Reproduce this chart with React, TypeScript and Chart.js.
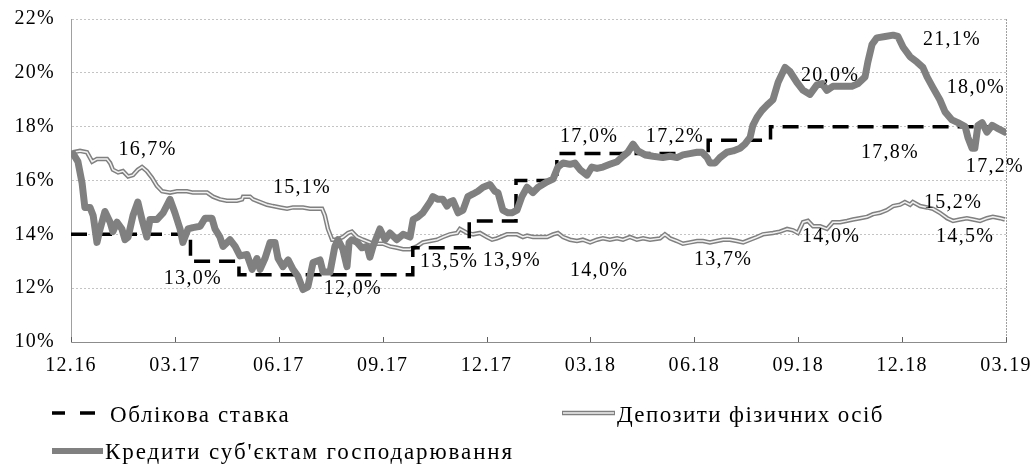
import React, { useEffect, useRef } from "react";
import { Chart, registerables } from "chart.js";

Chart.register(...registerables);

// Axis labels
const quarterLabels = ["12.16", "03.17", "06.17", "09.17", "12.17", "03.18", "06.18", "09.18", "12.18", "03.19"];

// Time is measured in months from the left edge (12.16)
const discountT = [0, 3.45, 4.85, 9.87, 11.5, 12.85, 14.03, 18.4, 20.2, 27];
const discountV = [14, 13, 12.5, 13.5, 14.5, 16, 17, 17.5, 18, 18];

const depositT = [
  0.06, 0.26, 0.46, 0.61, 0.75, 1.04, 1.13, 1.21, 1.36, 1.5, 1.65, 1.79, 1.93, 2.05, 2.19, 2.34, 2.48, 2.63, 2.86,
  3.06, 3.35, 3.52, 3.73, 3.93, 4.1, 4.3, 4.5, 4.79, 4.94, 4.97, 5.17, 5.26, 5.46, 5.66, 5.83, 6.04, 6.24, 6.41,
  6.7, 6.9, 7.25, 7.33, 7.42, 7.54, 7.68, 7.85, 8.0, 8.11, 8.26, 8.43, 8.63, 8.84, 9.01, 9.21, 9.41, 9.59, 9.79,
  9.99, 10.16, 10.37, 10.57, 10.74, 10.94, 11.15, 11.23, 11.44, 11.61, 11.81, 12.01, 12.16, 12.3, 12.59, 12.88,
  13.05, 13.17, 13.34, 13.54, 13.75, 13.92, 14.06, 14.21, 14.41, 14.61, 14.78, 14.99, 15.19, 15.36, 15.56, 15.77,
  15.94, 16.14, 16.34, 16.52, 16.72, 17.01, 17.15, 17.3, 17.5, 17.67, 17.87, 18.08, 18.25, 18.45, 18.65, 18.83,
  19.03, 19.23, 19.41, 19.61, 19.81, 19.98, 20.27, 20.47, 20.68, 20.85, 20.99, 21.14, 21.28, 21.43, 21.63, 21.83,
  22.0, 22.21, 22.41, 22.58, 22.78, 22.99, 23.16, 23.36, 23.56, 23.74, 23.94, 24.08, 24.23, 24.31, 24.52, 24.72,
  24.89, 25.09, 25.3, 25.47, 25.67, 25.87, 26.05, 26.25, 26.45, 26.62, 26.83, 26.97,
];
const depositV = [
  17.05, 17.1, 17.05, 16.7, 16.8, 16.8, 16.65, 16.4, 16.3, 16.35, 16.15, 16.2, 16.4, 16.5, 16.35, 16.1, 15.8, 15.6, 15.55,
  15.6, 15.6, 15.55, 15.55, 15.55, 15.4, 15.3, 15.25, 15.25, 15.3, 15.4, 15.4, 15.3, 15.2, 15.1, 15.05, 15.0, 14.95, 15.0,
  15.0, 14.95, 14.95, 14.7, 14.2, 13.8, 13.8, 13.9, 14.05, 14.1, 13.9, 13.8, 13.7, 13.65, 13.65, 13.55, 13.5, 13.45, 13.45,
  13.55, 13.7, 13.75, 13.8, 13.9, 14.0, 14.05, 14.2, 14.05, 14.0, 14.05, 13.9, 13.8, 13.85, 14.0, 14.0,
  13.9, 13.95, 13.9, 13.9, 13.9, 14.0, 14.05, 13.9, 13.8, 13.75, 13.8, 13.7, 13.8, 13.85, 13.8, 13.85,
  13.8, 13.9, 13.8, 13.85, 13.8, 13.85, 14.0, 13.85, 13.75, 13.65, 13.7, 13.75, 13.75, 13.7, 13.75, 13.8,
  13.8, 13.75, 13.7, 13.8, 13.9, 14.0, 14.05, 14.1, 14.2, 14.15, 14.05, 14.45, 14.5, 14.3, 14.3, 14.2,
  14.45, 14.45, 14.5, 14.55, 14.6, 14.65, 14.75, 14.8, 14.9, 15.05, 15.1, 15.2, 15.1, 15.2, 15.05, 15.0,
  14.95, 14.8, 14.6, 14.5, 14.55, 14.6, 14.55, 14.5, 14.6, 14.65, 14.6, 14.55,
];

const loanT = [
  0.06, 0.2, 0.32, 0.4, 0.55, 0.64, 0.75, 0.84, 0.98, 1.13, 1.21, 1.33, 1.47, 1.56, 1.65, 1.79, 1.93, 2.05, 2.19, 2.28,
  2.48, 2.66, 2.86, 3.0, 3.15, 3.23, 3.38, 3.52, 3.73, 3.87, 4.07, 4.16, 4.3, 4.39, 4.59, 4.74, 4.88, 5.08, 5.23, 5.37,
  5.46, 5.6, 5.75, 5.89, 5.98, 6.12, 6.27, 6.41, 6.55, 6.7, 6.84, 6.99, 7.19, 7.28, 7.48, 7.62, 7.71, 7.85, 7.97, 8.03,
  8.11, 8.26, 8.4, 8.55, 8.63, 8.72, 8.92, 9.07, 9.21, 9.41, 9.59, 9.79, 9.88, 10.02, 10.16, 10.37, 10.45, 10.6, 10.74,
  10.86, 10.94, 11.03, 11.18, 11.32, 11.46, 11.61, 11.75, 11.9, 12.1, 12.24, 12.33, 12.47, 12.62, 12.73, 12.88, 13.02,
  13.17, 13.34, 13.49, 13.75, 13.92, 14.06, 14.21, 14.41, 14.55, 14.7, 14.9, 15.04, 15.19, 15.36, 15.56, 15.77, 15.94,
  16.08, 16.23, 16.37, 16.58, 16.81, 17.09, 17.3, 17.5, 17.67, 17.87, 18.08, 18.22, 18.37, 18.45, 18.6, 18.74, 18.94,
  19.12, 19.32, 19.46, 19.61, 19.69, 19.81, 19.95, 20.1, 20.27, 20.42, 20.62, 20.76, 20.96, 21.14, 21.34, 21.54, 21.69,
  21.83, 22.0, 22.29, 22.55, 22.73, 22.93, 23.01, 23.13, 23.27, 23.51, 23.74, 23.88, 24.03, 24.23, 24.43, 24.6, 24.72,
  24.89, 25.09, 25.24, 25.44, 25.61, 25.82, 25.9, 26.02, 26.1, 26.19, 26.31, 26.45, 26.6, 26.74, 26.97,
];
const loanV = [
  17.0, 16.7, 15.9, 15.0, 15.0, 14.7, 13.7, 14.2, 14.85, 14.45, 14.1, 14.45, 14.2, 13.8, 13.9, 14.7, 15.2, 14.55, 13.9, 14.55,
  14.55, 14.8, 15.3, 14.8, 14.2, 13.7, 14.2, 14.25, 14.3, 14.6, 14.6, 14.2, 13.9, 13.55, 13.8, 13.55, 13.2, 13.25, 12.7, 13.1,
  12.7, 13.1, 13.7, 13.7, 13.1, 12.8, 13.05, 12.7, 12.45, 11.95, 12.05, 12.95, 13.05, 12.6, 12.6, 13.55, 13.8, 13.45, 12.8, 13.7,
  13.8, 13.7, 13.5, 13.55, 13.15, 13.55, 14.2, 13.8, 14.05, 13.8, 14.0, 13.9, 14.55, 14.65, 14.8, 15.2, 15.4, 15.3, 15.3,
  15.05, 15.2, 15.25, 14.8, 14.9, 15.4, 15.5, 15.6, 15.75, 15.85, 15.6, 15.55, 14.9, 14.8, 14.8, 14.9, 15.4,
  15.75, 15.55, 15.75, 15.95, 16.05, 16.5, 16.65, 16.6, 16.65, 16.4, 16.2, 16.5, 16.45, 16.5, 16.6, 16.7, 16.9,
  17.05, 17.35, 17.1, 16.95, 16.9, 16.85, 16.9, 16.85, 16.95, 17.0, 17.05, 17.05, 16.85, 16.65, 16.65, 16.85, 17.05,
  17.1, 17.2, 17.35, 17.6, 18.05, 18.35, 18.6, 18.8, 19.0, 19.65, 20.2, 20.05, 19.65, 19.35, 19.2, 19.55, 19.6,
  19.35, 19.5, 19.5, 19.5, 19.6, 19.85, 20.4, 21.05, 21.3, 21.35, 21.4, 21.35, 20.95, 20.6, 20.4, 20.2, 19.85,
  19.45, 19.0, 18.55, 18.25, 18.15, 18.0, 17.6, 17.2, 17.2, 18.05, 18.15, 17.8, 18.05, 17.95, 17.8,
];

// Value labels written on the chart (anchored at month / percent)
const noteText = [
  "16,7%", "15,1%", "13,0%", "12,0%", "13,5%", "13,9%", "14,0%", "17,0%", "17,2%",
  "13,7%", "14,0%", "20,0%", "21,1%", "18,0%", "17,8%", "17,2%", "15,2%", "14,5%",
];
const noteT = [2.21, 6.67, 3.52, 8.14, 10.92, 12.73, 15.25, 14.96, 17.44, 18.83, 21.95, 21.92, 25.44, 26.13, 23.65, 26.68, 25.47, 25.82];
const noteV = [16.93, 15.52, 12.15, 11.78, 12.78, 12.81, 12.44, 17.44, 17.44, 12.85, 13.7, 19.7, 21.04, 19.26, 16.85, 16.33, 14.96, 13.7];

const seriesNames = ["Облікова ставка", "Депозити фізичних осіб", "Кредити суб'єктам господарювання"];

const FONT = '"Liberation Serif", "Times New Roman", serif';
const GRAY = "#808080";

const toPoints = (t: number[], v: number[]) => t.map((x, i) => ({ x, y: v[i] }));

const decorPlugin = {
  id: "decor",
  beforeDraw(chart: any) {
    chart.ctx.letterSpacing = "1.3px";
  },
  beforeDatasetsDraw(chart: any) {
    const { ctx, chartArea, scales } = chart;
    const xs = scales.x;
    ctx.save();
    // right border
    ctx.strokeStyle = "#a0a0a0";
    ctx.lineWidth = 1;
    ctx.setLineDash([2, 1]);
    ctx.beginPath();
    ctx.moveTo(Math.round(chartArea.right) + 0.5, chartArea.top);
    ctx.lineTo(Math.round(chartArea.right) + 0.5, chartArea.bottom);
    ctx.stroke();
    ctx.setLineDash([]);
    // inward tick marks
    ctx.strokeStyle = "#606060";
    xs.ticks.forEach((tk: any) => {
      const px = Math.round(xs.getPixelForValue(tk.value)) + 0.5;
      ctx.beginPath();
      ctx.moveTo(px, chartArea.bottom);
      ctx.lineTo(px, chartArea.bottom - 5);
      ctx.stroke();
    });
    ctx.restore();
  },
  afterDatasetsDraw(chart: any) {
    const { ctx, scales } = chart;
    ctx.save();
    ctx.letterSpacing = "1.3px";
    ctx.font = `20px ${FONT}`;
    ctx.fillStyle = "#000";
    ctx.textAlign = "center";
    ctx.textBaseline = "alphabetic";
    noteText.forEach((txt, i) => {
      ctx.fillText(txt, scales.x.getPixelForValue(noteT[i]), scales.y.getPixelForValue(noteV[i]));
    });
    ctx.restore();
  },
  afterDraw(chart: any) {
    const { ctx } = chart;
    ctx.save();
    ctx.font = `23px ${FONT}`;
    ctx.fillStyle = "#000";
    ctx.textBaseline = "alphabetic";
    ctx.textAlign = "left";
    // row 1 left: dashed marker
    ctx.strokeStyle = "#000";
    ctx.lineWidth = 3.5;
    ctx.beginPath();
    ctx.moveTo(52, 413);
    ctx.lineTo(65, 413);
    ctx.moveTo(80, 413);
    ctx.lineTo(95, 413);
    ctx.stroke();
    ctx.letterSpacing = "1.6px";
    ctx.fillText(seriesNames[0], 110, 422);
    // row 1 right: double line marker
    ctx.strokeStyle = GRAY;
    ctx.lineWidth = 4.5;
    ctx.beginPath();
    ctx.moveTo(562, 413);
    ctx.lineTo(615, 413);
    ctx.stroke();
    ctx.strokeStyle = "#f2f2f2";
    ctx.lineWidth = 1.5;
    ctx.beginPath();
    ctx.moveTo(563, 413);
    ctx.lineTo(614, 413);
    ctx.stroke();
    ctx.letterSpacing = "1.4px";
    ctx.fillText(seriesNames[1], 617, 422);
    // row 2: thick gray marker
    ctx.strokeStyle = GRAY;
    ctx.lineWidth = 6;
    ctx.beginPath();
    ctx.moveTo(52, 451);
    ctx.lineTo(103, 451);
    ctx.stroke();
    ctx.letterSpacing = "1.9px";
    ctx.fillText(seriesNames[2], 105, 459);
    ctx.restore();
  },
};

export default function App() {
  const ref = useRef<HTMLCanvasElement | null>(null);

  useEffect(() => {
    if (!ref.current) return;
    const chart = new Chart(ref.current, {
      type: "line",
      data: {
        datasets: [
          {
            label: seriesNames[2],
            data: toPoints(loanT, loanV),
            borderColor: GRAY,
            borderWidth: 7,
            borderJoinStyle: "round",
            borderCapStyle: "round",
            pointRadius: 0,
            tension: 0,
            order: 0,
          },
          {
            label: seriesNames[0],
            data: toPoints(discountT, discountV),
            borderColor: "#000",
            borderWidth: 3.5,
            borderDash: [16, 9],
            stepped: true,
            pointRadius: 0,
            order: 1,
          },
          {
            label: seriesNames[1] + " inner",
            data: toPoints(depositT, depositV),
            borderColor: "#f2f2f2",
            borderWidth: 1.5,
            pointRadius: 0,
            tension: 0,
            order: 2,
          },
          {
            label: seriesNames[1],
            data: toPoints(depositT, depositV),
            borderColor: GRAY,
            borderWidth: 4.5,
            pointRadius: 0,
            tension: 0,
            order: 3,
          },
        ],
      },
      options: {
        responsive: false,
        animation: false,
        events: [],
        layout: { padding: { left: 0, top: 19, right: 28, bottom: 84 } },
        plugins: { legend: { display: false }, tooltip: { enabled: false } },
        scales: {
          x: {
            type: "linear",
            min: 0,
            max: 27,
            afterBuildTicks: (s: any) => {
              s.ticks = quarterLabels.map((_, i) => ({ value: i * 3 }));
            },
            afterFit: (s: any) => {
              s.height = 40;
              s.paddingLeft = 0;
              s.paddingRight = 0;
            },
            ticks: {
              autoSkip: false,
              maxRotation: 0,
              padding: 12,
              color: "#000",
              font: { family: FONT, size: 20 },
              callback: (v: any) => quarterLabels[Math.round(Number(v) / 3)] ?? "",
            },
            grid: { display: false, drawTicks: false },
            border: { display: true, color: "#8c8c8c", width: 1 },
          },
          y: {
            type: "linear",
            min: 10,
            max: 22,
            ticks: {
              stepSize: 2,
              padding: 16,
              color: "#000",
              font: { family: FONT, size: 20 },
              callback: (v: any) => `${v}%`,
            },
            afterFit: (s: any) => {
              s.width = 71;
              s.paddingTop = 0;
              s.paddingBottom = 0;
            },
            grid: { color: "#c4c4c4", lineWidth: 1, drawTicks: false },
            border: { display: true, color: "#a0a0a0", width: 1, dash: [2, 2] },
          },
        },
      },
      plugins: [decorPlugin],
    });
    return () => chart.destroy();
  }, []);

  return (
    <div style={{ position: "absolute", left: 0, top: 0, width: 1034, height: 466, background: "#fff" }}>
      <canvas ref={ref} width={1034} height={466} style={{ display: "block", width: 1034, height: 466 }} />
    </div>
  );
}
